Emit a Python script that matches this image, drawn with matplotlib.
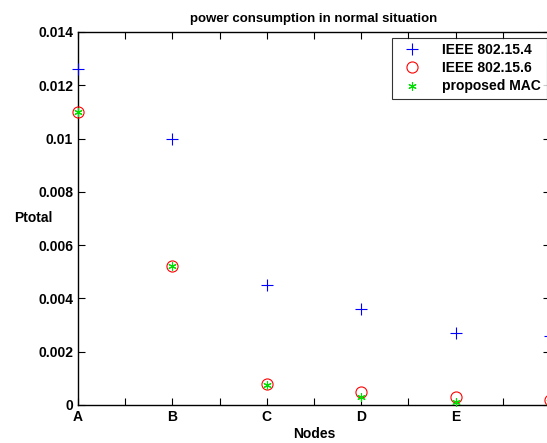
import numpy as np
import matplotlib.pyplot as plt

# nodes and power values
nodes = ['A', 'B', 'C', 'D', 'E', 'F']
p_154 = [0.0126, 0.0100, 0.0045, 0.0036, 0.0027, 0.0026]
p_156 = [0.0110, 0.0052, 0.0008, 0.0005, 0.0003, 0.0002]
p_mac = [0.0110, 0.0052, 0.00075, 0.0003, 0.0001, 0.0001]

plt.rcParams['font.family'] = ['Liberation Sans', 'DejaVu Sans']
plt.rcParams['font.weight'] = 'bold'

fig = plt.figure(figsize=(5.47, 4.43), dpi=100)
ax = fig.add_axes([0.1426, 0.0858, 0.863, 0.842])

x = np.arange(1, len(nodes) + 1)
ax.plot(x, p_154, linestyle='none', marker='+', color='#0000ff', markersize=9,
        markeredgewidth=0.8, label='IEEE 802.15.4', clip_on=False, zorder=3)
ax.plot(x, p_156, linestyle='none', marker='o', markerfacecolor='none',
        markeredgecolor='#ff0000', markersize=8, markeredgewidth=0.8,
        label='IEEE 802.15.6', clip_on=False, zorder=3)
ax.plot(x, p_mac, linestyle='none', marker=(6, 2, 0), color='#00dd00', markersize=6,
        markeredgewidth=0.8, label='proposed MAC', clip_on=False, zorder=3)

ax.set_xlim(1, 6)
ax.set_ylim(0, 0.014)
ax.set_xticks(np.arange(1, 6.01, 0.5))
# ticks every half node, labels only on whole nodes; F sits off the picture
labels = []
for n in nodes[:-1]:
    labels += [n, '']
labels.append('')
ax.set_xticklabels(labels)
ax.set_yticks(np.arange(0, 0.0141, 0.002))
ax.set_yticklabels(['0', '0.002', '0.004', '0.006', '0.008', '0.01', '0.012', '0.014'])
ax.tick_params(direction='in', top=True, right=True, labelsize=10, length=5, width=0.8)
for s in ax.spines.values():
    s.set_linewidth(1.0)

ax.set_title('power consumption in normal situation', fontsize=9.5, fontweight='bold', pad=7)
ax.set_xlabel('Nodes', fontsize=10, fontweight='bold', labelpad=2)
ax.set_ylabel('Ptotal', fontsize=10, fontweight='bold', rotation=0, va='center', ha='center')
ax.yaxis.set_label_coords(-0.095, 0.5)

leg = ax.legend(loc='upper right', bbox_to_anchor=(0.993, 0.985), fancybox=False,
                edgecolor='black', fontsize=10, borderpad=0.4, labelspacing=0.3,
                handletextpad=1.2, borderaxespad=0)
leg.get_frame().set_linewidth(0.8)

plt.savefig('out.png', dpi=100)
